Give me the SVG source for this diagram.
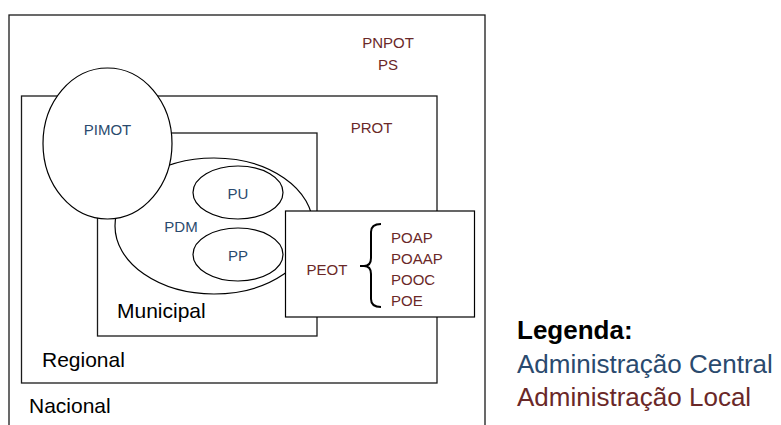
<svg xmlns="http://www.w3.org/2000/svg" width="781" height="425" viewBox="0 0 781 425">
  <style>
    .frame { fill: #ffffff; stroke: #1a1a1a; stroke-width: 1.3; }
    .shape { fill: #ffffff; stroke: #000000; stroke-width: 1.2; }
    .lbl { font-family: "Liberation Sans", Arial, sans-serif; font-size: 15px; }
    .central { fill: #2a4a6e; }
    .local { fill: #6a2828; }
    .level { font-family: "Liberation Sans", Arial, sans-serif; font-size: 21px; fill: #000000; }
    .legend { font-family: "Liberation Sans", Arial, sans-serif; font-size: 26px; }
    .brace { fill: none; stroke: #000000; stroke-width: 2; stroke-linejoin: round; }
  </style>
  <rect width="781" height="425" fill="#ffffff"/>

  <!-- nested planning levels -->
  <g id="nacional">
    <rect class="frame" x="9" y="15" width="476" height="420"/>
    <text class="level" x="29" y="413">Nacional</text>
    <text class="lbl local" x="388" y="48" text-anchor="middle">PNPOT</text>
    <text class="lbl local" x="388" y="70" text-anchor="middle">PS</text>
  </g>

  <g id="regional">
    <rect class="frame" x="21.5" y="96" width="415.5" height="287"/>
    <text class="level" x="42" y="367">Regional</text>
    <text class="lbl local" x="371.5" y="133" text-anchor="middle">PROT</text>
  </g>

  <g id="municipal">
    <rect class="frame" x="97.5" y="133" width="219.5" height="203"/>
    <text class="level" x="117" y="318">Municipal</text>
  </g>

  <g id="pdm">
    <ellipse class="shape" cx="214" cy="226" rx="99" ry="68"/>
    <text class="lbl central" x="181" y="232" text-anchor="middle">PDM</text>
  </g>

  <g id="pu">
    <ellipse class="shape" cx="238" cy="192.5" rx="45" ry="26.5"/>
    <text class="lbl central" x="238" y="199" text-anchor="middle">PU</text>
  </g>

  <g id="pp">
    <ellipse class="shape" cx="238" cy="254.5" rx="45" ry="26.5"/>
    <text class="lbl central" x="238" y="261" text-anchor="middle">PP</text>
  </g>

  <g id="pimot">
    <ellipse class="shape" cx="107.5" cy="143.5" rx="64.5" ry="75.5"/>
    <text class="lbl central" x="107.5" y="135" text-anchor="middle">PIMOT</text>
  </g>

  <g id="peot">
    <rect class="shape" x="285.5" y="211" width="189" height="106"/>
    <text class="lbl local" x="327" y="275" text-anchor="middle">PEOT</text>
    <text class="lbl local" x="391" y="243">POAP</text>
    <text class="lbl local" x="391" y="264">POAAP</text>
    <text class="lbl local" x="391" y="285">POOC</text>
    <text class="lbl local" x="391" y="306">POE</text>
  </g>

  <!-- curly brace grouping the special plans -->
  <g id="connectors">
    <path class="brace" d="M381,224 Q371,224 371,232 V258 Q371,266 364,266 H360 M364,266 Q371,266 371,274 V299 Q371,307 381,307"/>
  </g>

  <!-- key -->
  <g id="legenda">
    <text class="legend" x="517" y="339" font-weight="bold" fill="#000000">Legenda:</text>
    <text class="legend central" x="517" y="373">Administração Central</text>
    <text class="legend local" x="517" y="406">Administração Local</text>
  </g>
</svg>
